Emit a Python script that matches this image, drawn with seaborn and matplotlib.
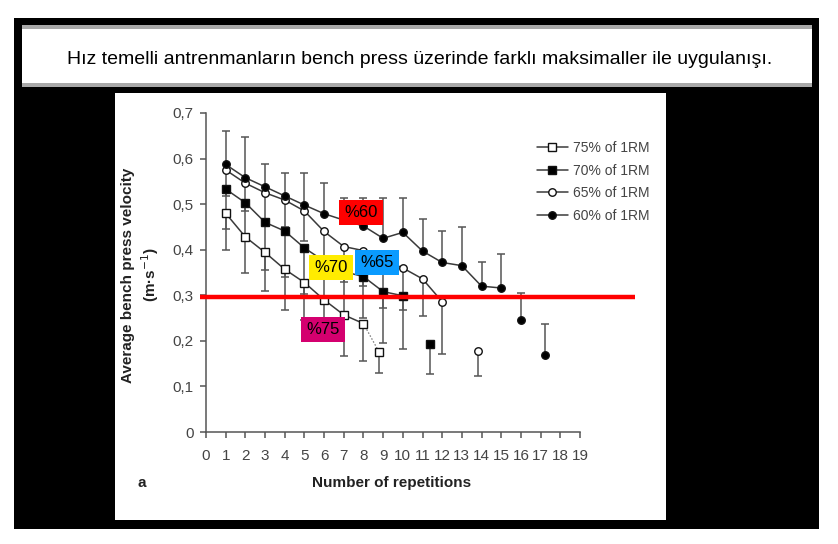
import matplotlib
matplotlib.use("Agg")
import matplotlib.pyplot as plt
import seaborn as sns
import pandas as pd
from matplotlib.patches import Rectangle
from matplotlib.lines import Line2D

# ---------------- data ----------------
title = "Hız temelli antrenmanların bench press üzerinde farklı maksimaller ile uygulanışı."

reps60 = [1, 2, 3, 4, 5, 6, 7, 8, 9, 10, 11, 12, 13, 14, 15]
vel60 = [0.587, 0.558, 0.538, 0.518, 0.498, 0.479, 0.465, 0.452, 0.425, 0.438, 0.397, 0.372, 0.365, 0.320, 0.316]
up60 = [0.660, 0.648, 0.588, 0.568, 0.568, 0.547, 0.514, 0.514, 0.513, 0.514, 0.467, 0.441, 0.449, 0.372, 0.390]
reps60_single = [16, 17.2]
vel60_single = [0.246, 0.169]
up60_single = [0.306, 0.236]

reps65 = [1, 2, 3, 4, 5, 6, 7, 8, 9, 10, 11, 12]
vel65 = [0.575, 0.546, 0.525, 0.509, 0.485, 0.440, 0.407, 0.398, 0.378, 0.360, 0.336, 0.286]
lo65 = [0.517, 0.486, 0.460, 0.450, 0.420, 0.380, 0.330, 0.320, 0.273, 0.268, 0.255, 0.171]
reps65_single = [13.8]
vel65_single = [0.178]
lo65_single = [0.122]

reps70 = [1, 2, 3, 4, 5, 6, 7, 8, 9, 10]
vel70 = [0.533, 0.503, 0.460, 0.441, 0.404, 0.375, 0.352, 0.341, 0.308, 0.299]
lo70 = [0.445, 0.420, 0.356, 0.340, 0.302, 0.280, 0.260, 0.250, 0.196, 0.183]
reps70_single = [11.4]
vel70_single = [0.193]
lo70_single = [0.128]

reps75 = [1, 2, 3, 4, 5, 6, 7, 8]
vel75 = [0.480, 0.428, 0.394, 0.357, 0.328, 0.290, 0.257, 0.238]
lo75 = [0.400, 0.348, 0.310, 0.268, 0.245, 0.210, 0.167, 0.155]
reps75_single = [8.8]
vel75_single = [0.175]
lo75_single = [0.130]

legend_labels = ["75% of 1RM", "70% of 1RM", "65% of 1RM", "60% of 1RM"]
yticks = [0, 0.1, 0.2, 0.3, 0.4, 0.5, 0.6, 0.7]
ytick_labels = ["0", "0,1", "0,2", "0,3", "0,4", "0,5", "0,6", "0,7"]
xticks = list(range(0, 20))

threshold = 0.296
tags = ["%60", "%70", "%65", "%75"]
tag_x = [7.87, 6.35, 8.68, 5.94]
tag_y = [0.481, 0.360, 0.373, 0.224]
tag_colors = ["#ff0000", "#ffec00", "#0a9bff", "#d4006f"]

# ---------------- style ----------------
sns.set_theme(style="white")
plt.rcParams['font.family'] = ['Liberation Sans', 'DejaVu Sans']

W, H = 838, 544
fig = plt.figure(figsize=(W / 100, H / 100), dpi=100)
fig.patch.set_facecolor("white")


def rect(x0, y0, x1, y1, color, z=-10):
    fig.add_artist(Rectangle((x0 / W, 1 - y1 / H), (x1 - x0) / W, (y1 - y0) / H,
                             transform=fig.transFigure, facecolor=color,
                             edgecolor="none", zorder=z))


rect(14, 18, 819, 529, "black")
rect(22, 25, 812, 87, "#a9a9a9", -9)
rect(22, 29, 812, 83, "white", -8)
rect(115, 93, 666, 520, "white", -8)
fig.text(420 / W, 1 - 60 / H, title, ha="center", va="center", fontsize=14, color="black")

ax = fig.add_axes([206 / W, 1 - 432 / H, (639 - 206) / W, (432 - 113) / H])
ax.set_facecolor("none")

LC = "#3a3a3a"
EC = "#555555"
ms = 5.4

# error bars (stems + caps)
def bars(xs, y0s, y1s):
    ax.vlines(xs, y0s, y1s, color=EC, lw=1.1, zorder=2)
    ax.scatter(xs, y1s, marker="_", s=40, color=EC, linewidths=1.1, zorder=2)

bars(reps60 + reps60_single, vel60 + vel60_single, up60 + up60_single)
bars(reps65 + reps65_single, vel65 + vel65_single, lo65 + lo65_single)
bars(reps70 + reps70_single, vel70 + vel70_single, lo70 + lo70_single)
bars(reps75 + reps75_single, vel75 + vel75_single, lo75 + lo75_single)

# series lines
specs = [
    (reps75, vel75, reps75_single, vel75_single, "s", "white"),
    (reps70, vel70, reps70_single, vel70_single, "s", "black"),
    (reps65, vel65, reps65_single, vel65_single, "o", "white"),
    (reps60, vel60, reps60_single, vel60_single, "o", "black"),
]
for (rx, vy, sx, sy, mk, fc) in specs:
    sns.lineplot(x=rx, y=vy, ax=ax, color=LC, lw=1.1, marker=mk, markersize=ms,
                 markerfacecolor=fc, markeredgecolor="#111111", markeredgewidth=1.0,
                 zorder=3)
    sns.lineplot(x=sx, y=sy, ax=ax, color=LC, lw=0, marker=mk, markersize=ms,
                 markerfacecolor=fc, markeredgecolor="#111111", markeredgewidth=1.0,
                 zorder=3)

# dotted link for 75% last point
ax.plot([reps75[-1], reps75_single[0]], [vel75[-1], vel75_single[0]],
        ls=(0, (1.2, 1.5)), color="#777777", lw=0.9, zorder=2)

# axes styling
ax.set_xlim(0, 22)
ax.set_ylim(0, 0.7)
ax.set_yticks(yticks)
ax.set_yticklabels(ytick_labels)
ax.set_xticks(xticks)
ax.set_xticklabels([str(v) for v in xticks])
for s in ["top", "right"]:
    ax.spines[s].set_visible(False)
for s in ["left", "bottom"]:
    ax.spines[s].set_color("#555555")
    ax.spines[s].set_linewidth(1.1)
ax.spines["bottom"].set_bounds(0, 19)
ax.tick_params(axis="both", direction="out", length=4, width=1.1, color="#555555",
               labelcolor="#444444", labelsize=11, left=True, bottom=True)
ax.tick_params(axis="y", pad=5)
ax.tick_params(axis="x", pad=8)

ax.set_xlabel("Number of repetitions", fontsize=11, fontweight="bold", color="#222222")
ax.xaxis.set_label_coords((392 - 206) / 433, (432 - 483) / 319)
ax.xaxis.label.set_va("center")
ax.set_ylabel("Average bench press velocity\n(m·s$^{-1}$)", fontsize=11,
              fontweight="bold", color="#222222", linespacing=1.25)
ax.yaxis.set_label_coords((141 - 206) / 433, (432 - 275) / 319)
ax.yaxis.label.set_va("center")
ax.yaxis.label.set_ha("center")
ax.text((142 - 206) / 433, (432 - 483) / 319, "a", transform=ax.transAxes,
        fontsize=11, fontweight="bold", color="#222222", ha="center", va="center")

# legend
handles = [
    Line2D([], [], color=LC, lw=1.1, marker="s", markersize=ms, markerfacecolor="white", markeredgecolor="#111111"),
    Line2D([], [], color=LC, lw=1.1, marker="s", markersize=ms, markerfacecolor="black", markeredgecolor="#111111"),
    Line2D([], [], color=LC, lw=1.1, marker="o", markersize=ms, markerfacecolor="white", markeredgecolor="#111111"),
    Line2D([], [], color=LC, lw=1.1, marker="o", markersize=ms, markerfacecolor="black", markeredgecolor="#111111"),
]
leg = ax.legend(handles, legend_labels, loc="upper left",
                bbox_to_anchor=((537 - 206) / 433, (432 - 141) / 319),
                frameon=False, fontsize=10, handlelength=2.2, handletextpad=0.4,
                labelspacing=0.62, borderpad=0, borderaxespad=0)
for t in leg.get_texts():
    t.set_color("#444444")

# red threshold line
ax.plot([-0.3, 21.8], [threshold, threshold], color="#ff0000", lw=3.2,
        solid_capstyle="butt", clip_on=False, zorder=5)

# colour tags
for t, x, y, c in zip(tags, tag_x, tag_y, tag_colors):
    ax.text(x, y, t, fontsize=12, color="black", ha="center", va="center", zorder=6,
            bbox=dict(boxstyle="square,pad=0.3", facecolor=c, edgecolor="none"))

fig.savefig("out.png", dpi=100)
